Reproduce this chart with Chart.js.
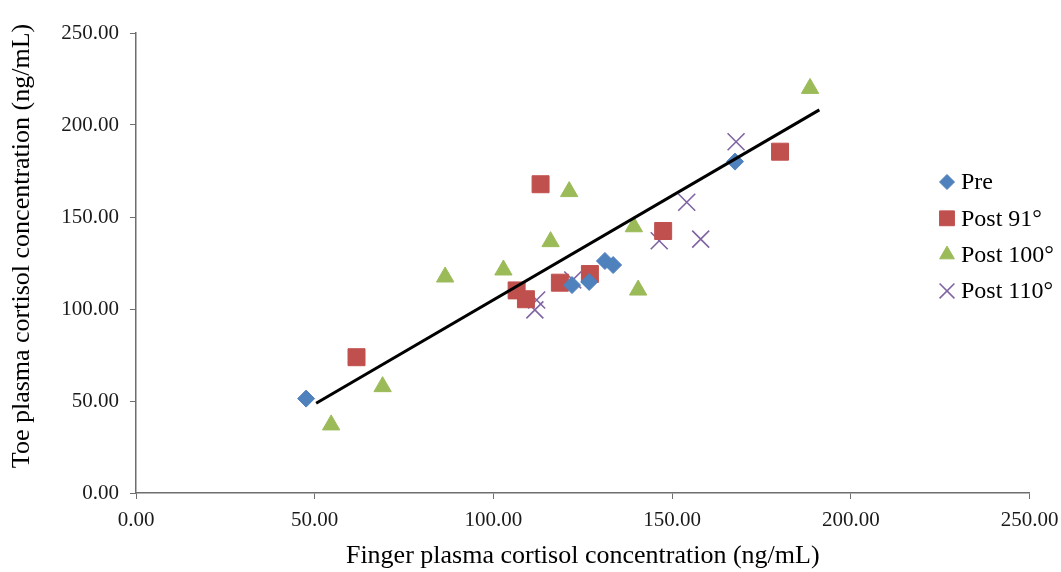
<!DOCTYPE html>
<html>
<head>
<meta charset="utf-8">
<script src="https://cdn.jsdelivr.net/npm/chart.js@4/dist/chart.umd.min.js"></script>
<style>
  html, body { margin: 0; padding: 0; background: #fff; }
  #wrap { width: 1061px; height: 572px; }
</style>
</head>
<body>
<div id="wrap"><canvas id="c" width="1061" height="572"></canvas></div>
<script>
// Finger (x) vs toe (y) plasma cortisol, ng/mL
const preX    = [47.6, 122.0, 126.8, 131.2, 133.5, 167.6];
const preY    = [51.3, 113.0, 114.7, 126.1, 123.9, 180.1];
const post91X = [61.7, 113.2, 106.5, 109.1, 118.6, 127.0, 147.5, 180.2];
const post91Y = [73.8, 167.8, 110.1, 105.3, 114.3, 119.0, 142.4, 185.5];
const post100X = [54.6, 69.0, 86.5, 102.8, 116.0, 121.2, 139.3, 140.5, 188.6];
const post100Y = [37.0, 57.8, 117.4, 121.2, 136.6, 163.8, 144.7, 110.3, 219.9];
const post110X = [112.1, 111.6, 122.2, 146.4, 154.1, 158.0, 167.9];
const post110Y = [104.9, 99.5, 115.8, 137.1, 158.0, 138.0, 190.9];
// linear trend line end points
const trendX = [50.4, 191.2];
const trendY = [48.8, 208.2];

const seriesLabels = ['Pre', 'Post 91\u00B0', 'Post 100\u00B0', 'Post 110\u00B0'];
const axisTicks = [0, 50, 100, 150, 200, 250];
const xTitle = 'Finger plasma cortisol concentration (ng/mL)';
const yTitle = 'Toe plasma cortisol concentration (ng/mL)';

const pts = (xs, ys) => xs.map((x, i) => ({ x: x, y: ys[i] }));

const serif = '"Liberation Serif", "Times New Roman", serif';

// legend at the right plus the rotated y-axis title
const sidePlugin = {
  id: 'sideText',
  afterDraw(chart) {
    const ctx = chart.ctx;
    const x0 = 947, y0 = 182, step = 36.3;
    let row = 0;
    chart.data.datasets.forEach((ds) => {
      if (!ds.inLegend) return;
      const y = y0 + row * step;
      ctx.save();
      ctx.fillStyle = ds.backgroundColor;
      ctx.strokeStyle = ds.borderColor;
      ctx.lineWidth = ds.borderWidth;
      Chart.helpers.drawPoint(ctx, {
        pointStyle: ds.pointStyle,
        radius: ds.legendRadius,
        rotation: 0,
        borderWidth: ds.borderWidth
      }, x0, y);
      ctx.fillStyle = '#000';
      ctx.font = '24px ' + serif;
      ctx.textBaseline = 'middle';
      ctx.textAlign = 'left';
      ctx.fillText(ds.label, x0 + 14, y + 1);
      ctx.restore();
      row++;
    });

    ctx.save();
    ctx.translate(22, 246);
    ctx.rotate(-Math.PI / 2);
    ctx.fillStyle = '#000';
    ctx.font = '26px ' + serif;
    ctx.textAlign = 'center';
    ctx.textBaseline = 'middle';
    ctx.fillText(yTitle, 0, 0);
    ctx.restore();
  }
};

new Chart(document.getElementById('c'), {
  type: 'scatter',
  data: {
    datasets: [
      {
        label: 'trend', type: 'line', data: pts(trendX, trendY),
        borderColor: '#000', borderWidth: 3, pointRadius: 0, fill: false, order: 0
      },
      {
        label: seriesLabels[0], data: pts(preX, preY), inLegend: true,
        pointStyle: 'rectRot', pointRadius: 8.5, legendRadius: 7.5,
        backgroundColor: '#4F81BD', borderColor: '#4F81BD', borderWidth: 1, order: 1
      },
      {
        label: seriesLabels[1], data: pts(post91X, post91Y), inLegend: true,
        pointStyle: 'rect', pointRadius: 12, legendRadius: 10.5,
        backgroundColor: '#C0504D', borderColor: '#C0504D', borderWidth: 1, order: 2
      },
      {
        label: seriesLabels[2], data: pts(post100X, post100Y), inLegend: true,
        pointStyle: 'triangle', pointRadius: 10, legendRadius: 8.5,
        backgroundColor: '#9BBB59', borderColor: '#9BBB59', borderWidth: 1, order: 3
      },
      {
        label: seriesLabels[3], data: pts(post110X, post110Y), inLegend: true,
        pointStyle: 'crossRot', pointRadius: 12, legendRadius: 10.5,
        backgroundColor: '#8064A2', borderColor: '#8064A2', borderWidth: 1.6, order: 4
      }
    ]
  },
  options: {
    responsive: false,
    animation: false,
    layout: { padding: { top: 33, right: 31.5, left: 0, bottom: 0 } },
    plugins: {
      legend: { display: false },
      tooltip: { enabled: false }
    },
    scales: {
      x: {
        type: 'linear', min: 0, max: 250,
        afterBuildTicks: (s) => { s.ticks = axisTicks.map(v => ({ value: v })); },
        afterFit: (s) => { s.height = 79; s.paddingLeft = 0; s.paddingRight = 0; },
        grid: { display: true, drawOnChartArea: false, drawTicks: true, tickLength: 6, color: '#6e6e6e', lineWidth: 1 },
        border: { display: true, color: '#6e6e6e', width: 1.5 },
        ticks: {
          color: '#1a1a1a', padding: 9,
          font: { family: serif, size: 21 },
          callback: (v) => v.toFixed(2)
        },
        title: {
          display: true, text: xTitle,
          color: '#000', font: { family: serif, size: 26 }, padding: { top: 3, bottom: 0 }
        }
      },
      y: {
        type: 'linear', min: 0, max: 250,
        afterBuildTicks: (s) => { s.ticks = axisTicks.map(v => ({ value: v })); },
        afterFit: (s) => { s.width = 136; s.paddingTop = 0; s.paddingBottom = 0; },
        grid: { display: true, drawOnChartArea: false, drawTicks: true, tickLength: 6, color: '#6e6e6e', lineWidth: 1 },
        border: { display: true, color: '#6e6e6e', width: 1.5 },
        ticks: {
          color: '#1a1a1a', padding: 11,
          font: { family: serif, size: 21 },
          callback: (v) => v.toFixed(2)
        },
        title: { display: false }
      }
    }
  },
  plugins: [sidePlugin]
});
</script>
</body>
</html>
